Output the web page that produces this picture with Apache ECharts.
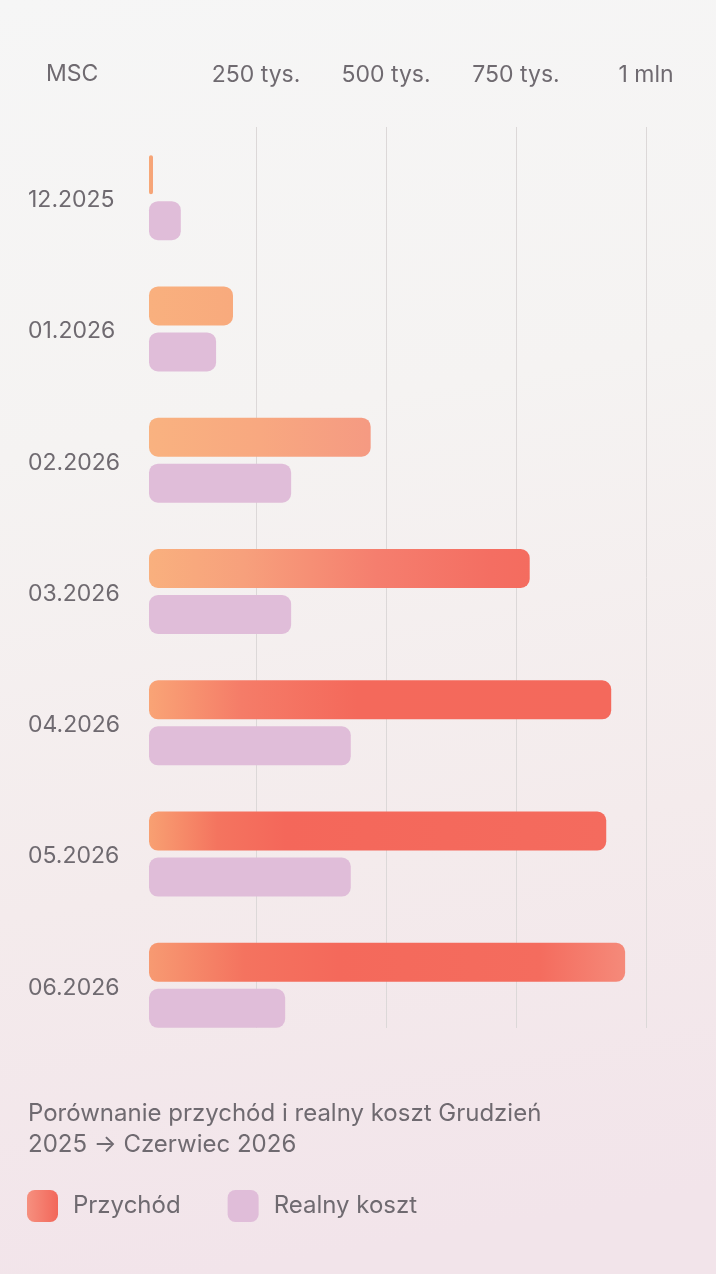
<!DOCTYPE html>
<html lang="pl">
<head>
<meta charset="utf-8">
<title>Przychód vs realny koszt</title>
<script src="https://cdn.jsdelivr.net/npm/echarts@6/dist/echarts.min.js"></script>
<style>
  html, body { margin: 0; padding: 0; }
  #chart { width: 716px; height: 1274px; }
</style>
</head>
<body>
<div id="chart"></div>
<script>
// dane
const months = ['12.2025', '01.2026', '02.2026', '03.2026', '04.2026', '05.2026', '06.2026'];
const revenue = [8000, 169000, 446000, 766000, 930000, 920000, 958000];
const realCost = [64000, 135000, 286000, 286000, 406000, 406000, 274000];
const tickValues = [250000, 500000, 750000, 1000000];
const tickLabels = ['250 tys.', '500 tys.', '750 tys.', '1 mln'];
const seriesNames = ['Przychód', 'Realny koszt'];
const captionText = 'Porównanie przychód i realny koszt Grudzień\n2025 → Czerwiec 2026';

const FONT = 'Inter, "Noto Sans", sans-serif';
const TEXT = '#6f6a70';

// gradienty pomaranczowych slupkow (kazdy slupek troche inaczej)
const revenueStops = [
  [[0, '#f7a877'], [1, '#f6a277']],
  [[0, '#f9b07e'], [1, '#f8aa7d']],
  [[0, '#f9b280'], [0.5, '#f8a880'], [1, '#f59a82']],
  [[0, '#f9b07e'], [0.25, '#f7a07c'], [0.6, '#f57e6e'], [0.9, '#f46e62'], [1, '#f46c5f']],
  [[0, '#f9a476'], [0.2, '#f57c68'], [0.45, '#f4695b'], [1, '#f4695c']],
  [[0, '#f8a072'], [0.15, '#f4745f'], [0.3, '#f4675a'], [1, '#f46b5e']],
  [[0, '#f79a72'], [0.2, '#f4735f'], [0.4, '#f4695b'], [0.82, '#f46c5e'], [1, '#f58a7a']]
];

function revenueFill(i) {
  const stops = revenueStops[i] || revenueStops[revenueStops.length - 1];
  return new echarts.graphic.LinearGradient(0, 0, 1, 0,
    stops.map(s => ({ offset: s[0], color: s[1] })));
}

const chart = echarts.init(document.getElementById('chart'));

const option = {
  animation: false,
  backgroundColor: new echarts.graphic.LinearGradient(0, 0, 0.3, 1, [
    { offset: 0, color: '#f6f6f6' },
    { offset: 0.35, color: '#f5f3f2' },
    { offset: 0.7, color: '#f4ebec' },
    { offset: 1, color: '#f2e4ea' }
  ]),
  title: [
    {
      text: 'MSC', left: 41, top: 58,
      textStyle: { fontFamily: FONT, fontSize: 23, fontWeight: 'normal', color: TEXT }
    },
    {
      text: captionText, left: 23, top: 1093,
      textStyle: { fontFamily: FONT, fontSize: 24, fontWeight: 'normal', color: TEXT, lineHeight: 31 }
    }
  ],
  legend: {
    left: 22, top: 1185,
    itemWidth: 31, itemHeight: 32, itemGap: 47,
    icon: 'roundRect',
    textStyle: { fontFamily: FONT, fontSize: 24, color: TEXT, padding: [0, 0, 0, 10] },
    data: [
      { name: seriesNames[0], itemStyle: { color: new echarts.graphic.LinearGradient(0, 0, 1, 0, [
        { offset: 0, color: '#f6907f' }, { offset: 1, color: '#f2675a' }]) } },
      { name: seriesNames[1], itemStyle: { color: '#e0bdd9' } }
    ]
  },
  grid: [
    // siatka + etykiety u gory
    { left: 126, right: 70, top: 127, bottom: 246 },
    // slupki
    { left: 149, right: 70, top: 132, bottom: 223 }
  ],
  xAxis: [
    {
      gridIndex: 0, type: 'value', position: 'top',
      min: 0, max: 1000000, interval: 250000,
      axisLine: { show: false }, axisTick: { show: false },
      axisLabel: {
        showMinLabel: false, margin: 40,
        fontFamily: FONT, fontSize: 23, color: TEXT,
        formatter: v => {
          const k = tickValues.indexOf(v);
          return k >= 0 ? tickLabels[k] : '';
        }
      },
      splitLine: { show: true, showMinLine: false, lineStyle: { color: '#dcd8d8', width: 1 } }
    },
    {
      gridIndex: 1, type: 'value', min: 0, max: 1000000, show: false
    }
  ],
  yAxis: [
    { gridIndex: 0, type: 'value', show: false },
    {
      gridIndex: 1, type: 'category', data: months, inverse: true,
      axisLine: { show: false }, axisTick: { show: false },
      axisLabel: {
        align: 'left', margin: 121, verticalAlign: 'top', lineHeight: 5,
        fontFamily: FONT, fontSize: 23, color: TEXT
      }
    }
  ],
  series: [
    {
      name: seriesNames[0], type: 'bar', xAxisIndex: 1, yAxisIndex: 1,
      data: revenue, barWidth: 39, barGap: '18%',
      itemStyle: { borderRadius: 9, color: p => revenueFill(p.dataIndex) }
    },
    {
      name: seriesNames[1], type: 'bar', xAxisIndex: 1, yAxisIndex: 1,
      data: realCost, barWidth: 39, barGap: '18%',
      itemStyle: { borderRadius: 9, color: '#e0bdd9' }
    }
  ]
};

chart.setOption(option);
window.addEventListener('resize', () => chart.resize());
</script>
</body>
</html>
